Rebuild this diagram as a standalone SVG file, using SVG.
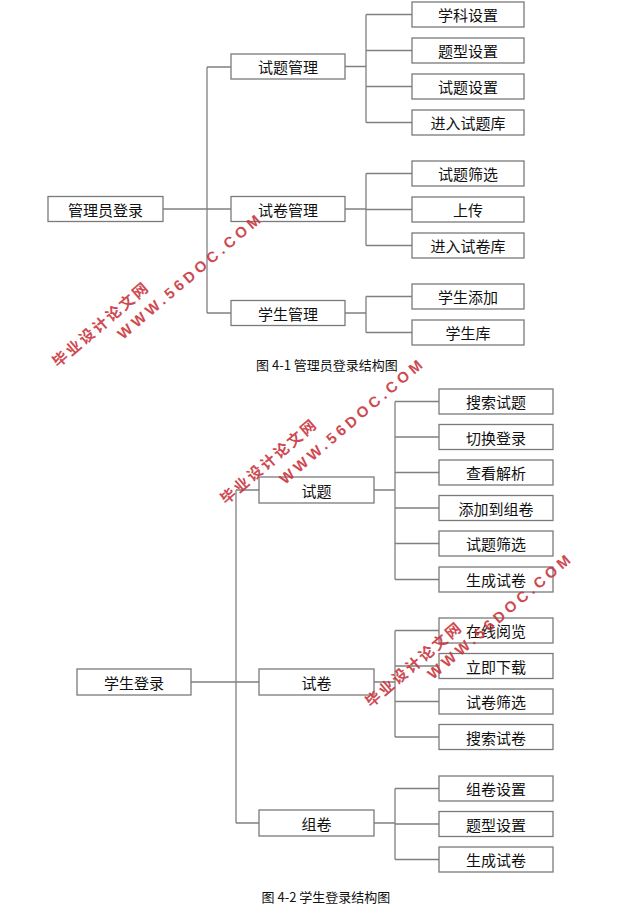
<svg xmlns="http://www.w3.org/2000/svg" width="619" height="914" viewBox="0 0 619 914">
<style>
.box{fill:#fff;stroke:#7a7a7a;stroke-width:1.3}
.lbl{font-family:"Noto Sans CJK SC","Microsoft YaHei",sans-serif;font-size:15px;fill:#111;text-anchor:middle;dominant-baseline:central}
.cap{font-family:"Noto Sans CJK SC",sans-serif;font-size:13px;fill:#111;text-anchor:middle}
.ln{fill:none;stroke:#808080;stroke-width:1.3}
.wmc{font-family:"Noto Sans CJK SC",sans-serif;font-weight:bold;font-size:15px;fill:#c9363e;opacity:0.9}
.wme{font-family:"Liberation Sans",Arial,sans-serif;font-weight:bold;font-size:15px;fill:#c9363e;opacity:0.9}
</style>
<rect width="619" height="914" fill="#fff"/>
<g id="connectors">
<path class="ln" d="M163,209 H231 M207,67 V313 M207,67 H231 M207,313 H231"/>
<path class="ln" d="M345,66.5 H366 M366,14.5 V122.5 M366,14.5 H412 M366,50.5 H412 M366,86.5 H412 M366,122.5 H412"/>
<path class="ln" d="M345,209 H366 M366,173.5 V245.5 M366,173.5 H412 M366,209.5 H412 M366,245.5 H412"/>
<path class="ln" d="M345,313 H366 M366,296.5 V332.5 M366,296.5 H412 M366,332.5 H412"/>
<path class="ln" d="M191,682 H259 M236,490 V823 M236,490 H259 M236,823 H259"/>
<path class="ln" d="M374,490 H395 M395,401.5 V579.5 M395,401.5 H439 M395,437 H439 M395,472.5 H439 M395,508 H439 M395,543.5 H439 M395,579.5 H439"/>
<path class="ln" d="M374,682 H395 M395,630.5 V737 M395,630.5 H439 M395,666 H439 M395,701.5 H439 M395,737 H439"/>
<path class="ln" d="M374,823 H395 M395,788.5 V859.5 M395,788.5 H439 M395,824 H439 M395,859.5 H439"/>
</g>
<g id="admin"><rect class="box" x="48" y="196.5" width="115" height="25"/><text class="lbl" x="105.5" y="209">管理员登录</text></g>
<g id="tigl"><rect class="box" x="231" y="54" width="114" height="25"/><text class="lbl" x="288" y="66.5">试题管理</text></g>
<g id="sjgl"><rect class="box" x="231" y="196.5" width="114" height="25"/><text class="lbl" x="288" y="209">试卷管理</text></g>
<g id="xsgl"><rect class="box" x="231" y="300.5" width="114" height="25"/><text class="lbl" x="288" y="313">学生管理</text></g>
<g id="xksz"><rect class="box" x="412" y="2" width="112" height="25"/><text class="lbl" x="468" y="14.5">学科设置</text></g>
<g id="txsz1"><rect class="box" x="412" y="38" width="112" height="25"/><text class="lbl" x="468" y="50.5">题型设置</text></g>
<g id="stsz"><rect class="box" x="412" y="74" width="112" height="25"/><text class="lbl" x="468" y="86.5">试题设置</text></g>
<g id="jrstk"><rect class="box" x="412" y="110" width="112" height="25"/><text class="lbl" x="468" y="122.5">进入试题库</text></g>
<g id="stsx1"><rect class="box" x="412" y="161" width="112" height="25"/><text class="lbl" x="468" y="173.5">试题筛选</text></g>
<g id="sc"><rect class="box" x="412" y="197" width="112" height="25"/><text class="lbl" x="468" y="209.5">上传</text></g>
<g id="jrsjk"><rect class="box" x="412" y="233" width="112" height="25"/><text class="lbl" x="468" y="245.5">进入试卷库</text></g>
<g id="xstj"><rect class="box" x="412" y="284" width="112" height="25"/><text class="lbl" x="468" y="296.5">学生添加</text></g>
<g id="xsk"><rect class="box" x="412" y="320" width="112" height="25"/><text class="lbl" x="468" y="332.5">学生库</text></g>
<text class="cap" x="327" y="370">图 4-1 管理员登录结构图</text>

<g id="student"><rect class="box" x="77" y="669" width="114" height="26"/><text class="lbl" x="134" y="682">学生登录</text></g>
<g id="shiti"><rect class="box" x="259" y="477" width="115" height="26"/><text class="lbl" x="316.5" y="490">试题</text></g>
<g id="shijuan"><rect class="box" x="259" y="669" width="115" height="26"/><text class="lbl" x="316.5" y="682">试卷</text></g>
<g id="zujuan"><rect class="box" x="259" y="810" width="115" height="26"/><text class="lbl" x="316.5" y="823">组卷</text></g>
<g id="ssst"><rect class="box" x="439" y="389" width="114" height="25"/><text class="lbl" x="496" y="401.5">搜索试题</text></g>
<g id="qhdl"><rect class="box" x="439" y="424.5" width="114" height="25"/><text class="lbl" x="496" y="437">切换登录</text></g>
<g id="ckjx"><rect class="box" x="439" y="460" width="114" height="25"/><text class="lbl" x="496" y="472.5">查看解析</text></g>
<g id="tjdzj"><rect class="box" x="439" y="495.5" width="114" height="25"/><text class="lbl" x="496" y="508">添加到组卷</text></g>
<g id="stsx2"><rect class="box" x="439" y="531" width="114" height="25"/><text class="lbl" x="496" y="543.5">试题筛选</text></g>
<g id="scsj1"><rect class="box" x="439" y="567" width="114" height="25"/><text class="lbl" x="496" y="579.5">生成试卷</text></g>
<g id="zxyl"><rect class="box" x="439" y="618" width="114" height="25"/><text class="lbl" x="496" y="630.5">在线阅览</text></g>
<g id="ljxz"><rect class="box" x="439" y="653.5" width="114" height="25"/><text class="lbl" x="496" y="666">立即下载</text></g>
<g id="sjsx"><rect class="box" x="439" y="689" width="114" height="25"/><text class="lbl" x="496" y="701.5">试卷筛选</text></g>
<g id="sssj"><rect class="box" x="439" y="724.5" width="114" height="25"/><text class="lbl" x="496" y="737">搜索试卷</text></g>
<g id="zjsz"><rect class="box" x="439" y="776" width="114" height="25"/><text class="lbl" x="496" y="788.5">组卷设置</text></g>
<g id="txsz2"><rect class="box" x="439" y="811.5" width="114" height="25"/><text class="lbl" x="496" y="824">题型设置</text></g>
<g id="scsj2"><rect class="box" x="439" y="847" width="114" height="25"/><text class="lbl" x="496" y="859.5">生成试卷</text></g>
<text class="cap" x="326" y="902">图 4-2 学生登录结构图</text>

<g id="watermarks">
<text class="wmc" transform="translate(58,368) rotate(-40.5)" textLength="120" lengthAdjust="spacing">毕业设计论文网</text>
<text class="wme" transform="translate(123,340) rotate(-40.5)" textLength="182" lengthAdjust="spacing">WWW.56DOC.COM</text>
<text class="wmc" transform="translate(226,505) rotate(-40.5)" textLength="120" lengthAdjust="spacing">毕业设计论文网</text>
<text class="wme" transform="translate(285,485) rotate(-40.5)" textLength="182" lengthAdjust="spacing">WWW.56DOC.COM</text>
<text class="wmc" transform="translate(371,708) rotate(-40.5)" textLength="120" lengthAdjust="spacing">毕业设计论文网</text>
<text class="wme" transform="translate(433,680) rotate(-40.5)" textLength="182" lengthAdjust="spacing">WWW.56DOC.COM</text>
</g>
</svg>
